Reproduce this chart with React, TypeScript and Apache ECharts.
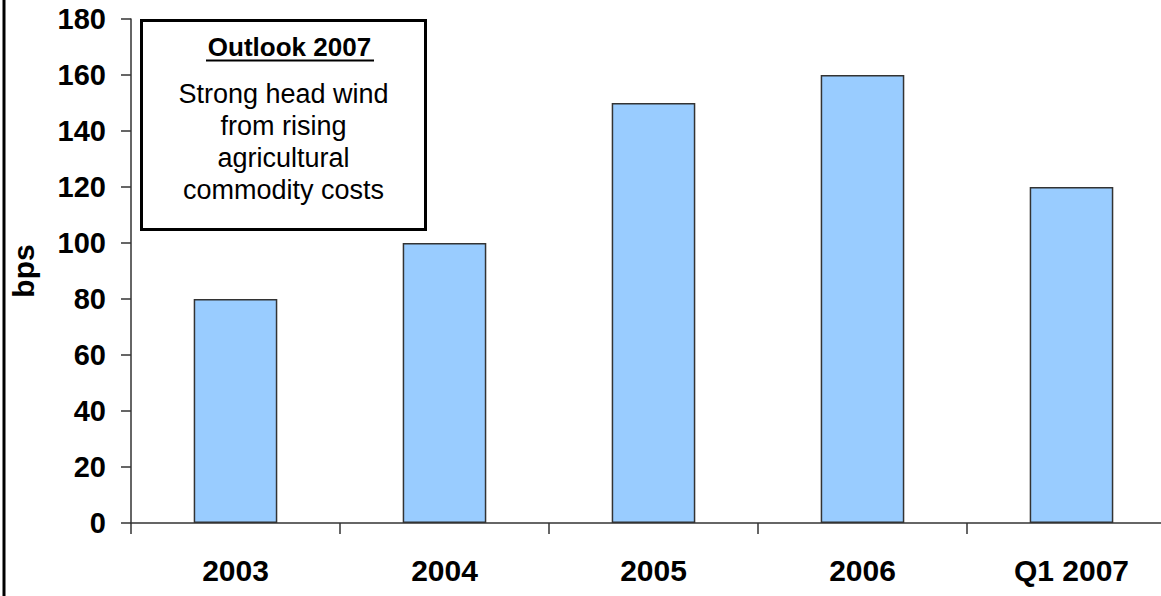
import React, { useEffect, useRef } from "react";
import * as echarts from "echarts";

// Margin gain per period, in basis points
const categories = ["2003", "2004", "2005", "2006", "Q1 2007"];
const bpsValues = [80, 100, 150, 160, 120];
const yTicks = { min: 0, max: 180, interval: 20 };

const boxTitle = "Outlook 2007";
const boxLines = ["Strong head wind", "from rising", "agricultural", "commodity costs"];

const FONT = "'Liberation Sans', Arial, Helvetica, sans-serif";

export default function App() {
  const ref = useRef<HTMLDivElement>(null);

  useEffect(() => {
    if (!ref.current) return;
    const chart = echarts.init(ref.current, undefined, { renderer: "svg" });
    chart.setOption({
      animation: false,
      backgroundColor: "#ffffff",
      grid: { left: 131, top: 19, bottom: 73, right: 4 },
      xAxis: {
        type: "category",
        data: categories,
        axisLine: { show: true, lineStyle: { color: "#333333", width: 1.5 } },
        axisTick: { show: true, alignWithLabel: false, length: 11, lineStyle: { color: "#333333", width: 1.5 } },
        axisLabel: {
          color: "#000000",
          fontFamily: FONT,
          fontWeight: "bold",
          fontSize: 30,
          margin: 32,
        },
      },
      yAxis: {
        type: "value",
        min: yTicks.min,
        max: yTicks.max,
        interval: yTicks.interval,
        name: "bps",
        nameLocation: "middle",
        nameGap: 93,
        nameTextStyle: {
          color: "#000000",
          fontFamily: FONT,
          fontWeight: "bold",
          fontSize: 30,
        },
        axisLine: { show: true, lineStyle: { color: "#333333", width: 1.5 } },
        axisTick: { show: true, length: 10, lineStyle: { color: "#333333", width: 1.5 } },
        splitLine: { show: false },
        axisLabel: {
          color: "#000000",
          fontFamily: FONT,
          fontWeight: "bold",
          fontSize: 29,
          margin: 25,
        },
      },
      series: [
        {
          type: "bar",
          data: bpsValues,
          barWidth: "40%",
          itemStyle: { color: "#99CCFF", borderColor: "#333333", borderWidth: 1.5 },
        },
      ],
      graphic: [
        // frame edge along the left side
        {
          type: "line",
          shape: { x1: 4, y1: 0, x2: 4, y2: 596 },
          style: { stroke: "#000000", lineWidth: 3 },
          z: 10,
        },
        // annotation box
        {
          type: "group",
          z: 10,
          children: [
            {
              type: "rect",
              shape: { x: 141.5, y: 20.5, width: 284, height: 209 },
              style: { fill: "#ffffff", stroke: "#000000", lineWidth: 3 },
            },
            {
              type: "text",
              x: 289.5,
              y: 47,
              style: {
                text: boxTitle,
                fill: "#000000",
                font: `bold 26px ${FONT}`,
                align: "center",
                verticalAlign: "middle",
              },
            },
            {
              type: "line",
              shape: { x1: 206, y1: 60.5, x2: 374, y2: 60.5 },
              style: { stroke: "#000000", lineWidth: 2 },
            },
            {
              type: "text",
              x: 283.5,
              y: 142,
              style: {
                text: boxLines.join("\n"),
                fill: "#000000",
                font: `27px ${FONT}`,
                lineHeight: 32,
                align: "center",
                verticalAlign: "middle",
              },
            },
          ],
        },
      ],
    });
    return () => chart.dispose();
  }, []);

  return (
    <div style={{ position: "fixed", left: 0, top: 0, width: 1161, height: 596, overflow: "hidden", background: "#fff" }}>
      <div ref={ref} style={{ width: 1180, height: 596 }} />
    </div>
  );
}
